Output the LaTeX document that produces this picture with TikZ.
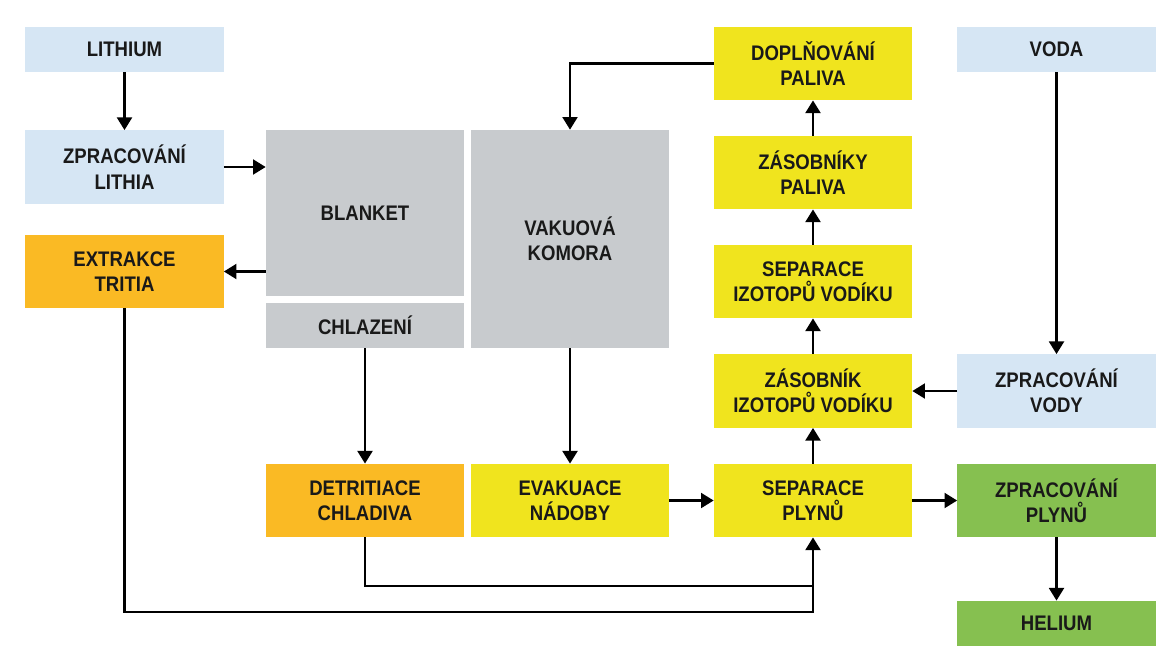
\documentclass[tikz,border=0pt]{standalone}
\usepackage{fontspec}
\setmainfont{Liberation Sans}[FakeStretch=0.88]
\usetikzlibrary{arrows.meta}

\definecolor{svetle}{RGB}{214,230,244}
\definecolor{seda}{RGB}{200,203,206}
\definecolor{oranz}{RGB}{250,186,36}
\definecolor{zluta}{RGB}{240,228,30}
\definecolor{zelena}{RGB}{134,192,80}
\definecolor{pismo}{RGB}{25,25,25}

\tikzset{
  blok/.style={rectangle, inner sep=0pt, minimum width=4.95cm, minimum height=1.83cm,
    text=pismo, align=center, font=\fontsize{15}{18}\selectfont\bfseries},
  nizky/.style={blok, minimum height=1.13cm},
  sipka/.style={line width=1.9pt, draw=black, -{Triangle[width=10.5pt,length=9pt]}},
  cara/.style={line width=1.9pt, draw=black}
}

\begin{document}
\begin{tikzpicture}[x=0.025cm, y=-0.025cm, line join=miter]
  \useasboundingbox (0,0) rectangle (1162,646);

  % left column
  \node[nizky, fill=svetle] (lith) at (124.5,49.5) {LITHIUM};
  \node[blok, fill=svetle] (zplith) at (124.5,167) {ZPRACOVÁNÍ\\LITHIA};
  \node[blok, fill=oranz] (extr) at (124.5,271.5) {EXTRAKCE\\TRITIA};

  % reactor
  \node[blok, fill=seda, minimum height=4.15cm] (blanket) at (365,213) {BLANKET};
  \node[nizky, fill=seda] (chlaz) at (365,325.5) {CHLAZENÍ};
  \node[blok, fill=seda, minimum height=5.45cm] (vakuum) at (570,239) {VAKUOVÁ\\KOMORA};
  \node[blok, fill=oranz] (detr) at (365,500.5) {DETRITIACE\\CHLADIVA};
  \node[blok, fill=zluta] (evak) at (570,500.5) {EVAKUACE\\NÁDOBY};

  % fuel column
  \node[blok, fill=zluta] (dopl) at (813,63.5) {DOPLŇOVÁNÍ\\PALIVA};
  \node[blok, fill=zluta] (zaspal) at (813,172.5) {ZÁSOBNÍKY\\PALIVA};
  \node[blok, fill=zluta] (sepiz) at (813,281.5) {SEPARACE\\IZOTOPŮ VODÍKU};
  \node[blok, fill=zluta] (zasiz) at (813,391) {ZÁSOBNÍK\\IZOTOPŮ VODÍKU};
  \node[blok, fill=zluta] (seppl) at (813,500.5) {SEPARACE\\PLYNŮ};

  % right column
  \node[nizky, fill=svetle] (voda) at (1056.5,49.5) {VODA};
  \node[blok, fill=svetle] (zpvod) at (1056.5,391) {ZPRACOVÁNÍ\\VODY};
  \node[blok, fill=zelena] (zpplyn) at (1056.5,500.5) {ZPRACOVÁNÍ\\PLYNŮ};
  \node[nizky, fill=zelena] (hel) at (1056.5,623.5) {HELIUM};

  \coordinate (sbernice1) at (0,586);
  \coordinate (sbernice2) at (0,612);

  % connectors
  \draw[sipka] (lith) -- (zplith);
  \draw[sipka] (zplith.east) -- (zplith.east -| blanket.west);
  \draw[sipka] (extr.east -| blanket.west) -- (extr.east);
  \draw[sipka] (dopl.west) -| (vakuum.north);
  \draw[sipka] (chlaz) -- (detr);
  \draw[sipka] (vakuum) -- (evak);
  \draw[sipka] (evak) -- (seppl);
  \draw[sipka] (seppl) -- (zasiz);
  \draw[sipka] (zasiz) -- (sepiz);
  \draw[sipka] (sepiz) -- (zaspal);
  \draw[sipka] (zaspal) -- (dopl);
  \draw[sipka] (voda) -- (zpvod);
  \draw[sipka] (zpvod) -- (zasiz);
  \draw[sipka] (seppl) -- (zpplyn);
  \draw[sipka] (zpplyn) -- (hel);
  \draw[cara] (detr.south) |- (sbernice1 -| seppl.south);
  \draw[sipka] (extr.south) |- (sbernice2 -| seppl.south) -- (seppl.south);
\end{tikzpicture}
\end{document}
